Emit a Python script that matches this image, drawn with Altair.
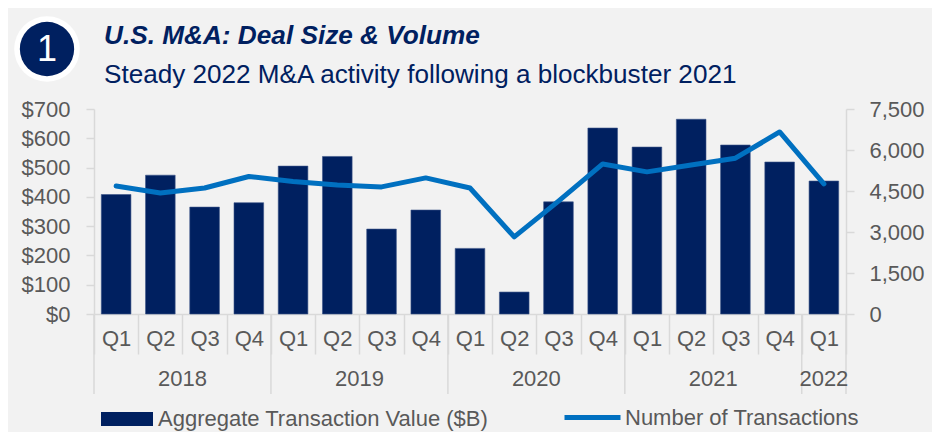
import altair as alt
import pandas as pd

FONT = "Liberation Sans"
NAVY = "#002060"
BLUE = "#0070C0"
GRAY = "#595959"
RULE = "#d9d9d9"
BG = "#f2f2f2"

years = ["2018"] * 4 + ["2019"] * 4 + ["2020"] * 4 + ["2021"] * 4 + ["2022"]
quarters = ["Q1", "Q2", "Q3", "Q4"] * 4 + ["Q1"]
value_b = [408, 474, 365, 380, 505, 538, 290, 355, 224, 75, 383, 635, 570, 665, 577, 519, 454]
transactions = [4680, 4430, 4610, 5030, 4850, 4720, 4650, 4980, 4610, 2820, 4130, 5490, 5200, 5450, 5700, 6660, 4760]

bar_name = "Aggregate Transaction Value ($B)"
line_name = "Number of Transactions"
title_text = "U.S. M&A: Deal Size & Volume"
subtitle_text = "Steady 2022 M&A activity following a blockbuster 2021"

periods = [f"{y} {q}" for y, q in zip(years, quarters)]
order = periods
df = pd.DataFrame({"period": periods, "value": value_b, "count": transactions,
                   "s1": bar_name, "s2": line_name})

year_starts = pd.DataFrame({"period": ["2018 Q1", "2019 Q1", "2020 Q1", "2021 Q1", "2022 Q1"]})
year_end = pd.DataFrame({"period": ["2022 Q1"]})
year_mid = pd.DataFrame({"period": ["2018 Q3", "2019 Q3", "2020 Q3", "2021 Q3"],
                         "year": ["2018", "2019", "2020", "2021"]})
year_single = pd.DataFrame({"period": ["2022 Q1"], "year": ["2022"]})

x_scale = alt.Scale(type="band", domain=order, paddingInner=0, paddingOuter=0)
x_plain = lambda **kw: alt.X("period:N", scale=x_scale, sort=order, title=None, **kw)

bars = alt.Chart(df).mark_bar(
    color=NAVY, width=alt.RelativeBandSize(band=0.67), stroke="#3a5488", strokeWidth=0.6
).encode(
    x=alt.X("period:N", scale=x_scale, sort=order, title=None, axis=alt.Axis(
        labelExpr="split(datum.label, ' ')[1]", labelAngle=0, tickBand="extent", tickSize=40,
        tickColor=RULE, tickWidth=1.5, domainColor=RULE, domainWidth=1.5,
        labelFont=FONT, labelFontSize=22, labelColor=GRAY, labelPadding=-16, labelBaseline="middle",
        labelAlign="center", grid=False)),
    y=alt.Y("value:Q", scale=alt.Scale(domain=[0, 700]), title=None, axis=alt.Axis(
        orient="left", values=[0, 100, 200, 300, 400, 500, 600, 700], format="$d", grid=False,
        tickSize=8, tickColor=RULE, tickWidth=1.5, domainColor=RULE, domainWidth=1.5,
        labelFont=FONT, labelFontSize=22, labelColor=GRAY, labelPadding=16)),
    color=alt.Color("s1:N", scale=alt.Scale(domain=[bar_name], range=[NAVY]), title=None, legend=alt.Legend(
        orient="none", legendX=7, legendY=284, symbolType="M-1,-0.27H1V0.27H-1Z", symbolSize=2704,
        symbolStrokeWidth=0, labelFont=FONT, labelFontSize=22, labelColor=GRAY, labelLimit=500, labelOffset=5)),
)

line = alt.Chart(df).mark_line(strokeWidth=5, strokeCap="round", strokeJoin="round").encode(
    x=x_plain(),
    y=alt.Y("count:Q", scale=alt.Scale(domain=[0, 7500]), title=None, axis=alt.Axis(
        orient="right", values=[0, 1500, 3000, 4500, 6000, 7500], format=",d", grid=False,
        tickSize=8, tickColor=RULE, tickWidth=1.5, domainColor=RULE, domainWidth=1.5,
        labelFont=FONT, labelFontSize=22, labelColor=GRAY, labelPadding=15)),
    stroke=alt.Stroke("s2:N", scale=alt.Scale(domain=[line_name], range=[BLUE]), title=None, legend=alt.Legend(
        orient="none", legendX=468, legendY=278, symbolType="stroke", symbolSize=3136,
        symbolStrokeWidth=5, labelFont=FONT, labelFontSize=22, labelColor=GRAY, labelLimit=500, labelOffset=2)),
)

sep_start = alt.Chart(year_starts).mark_rule(color=RULE, strokeWidth=1.5).encode(
    x=x_plain(bandPosition=0), y=alt.value(205), y2=alt.value(285))
sep_end = alt.Chart(year_end).mark_rule(color=RULE, strokeWidth=1.5).encode(
    x=x_plain(bandPosition=1), y=alt.value(205), y2=alt.value(285))

year_style = dict(font=FONT, fontSize=22, color=GRAY, baseline="middle", align="center")
year_text = alt.Chart(year_mid).mark_text(**year_style).encode(
    x=x_plain(bandPosition=0), y=alt.value(270), text="year:N")
year_text2 = alt.Chart(year_single).mark_text(**year_style).encode(
    x=x_plain(bandPosition=0.5), y=alt.value(270), text="year:N")

badge_df = pd.DataFrame({"label": ["1"], "title": [title_text], "subtitle": [subtitle_text]})
badge_white = alt.Chart(badge_df).mark_point(filled=True, shape="circle", color="white", opacity=1, size=4300).encode(
    x=alt.value(-47), y=alt.value(-60))
badge_navy = alt.Chart(badge_df).mark_point(filled=True, shape="circle", color=NAVY, opacity=1, size=2950).encode(
    x=alt.value(-47), y=alt.value(-60))
badge_text = alt.Chart(badge_df).mark_text(font=FONT, fontSize=36, color="white", baseline="middle", align="center").encode(
    x=alt.value(-47), y=alt.value(-59), text="label:N")
title_mark = alt.Chart(badge_df).mark_text(font=FONT, fontSize=26.2, fontStyle="italic", fontWeight="bold",
                                           color=NAVY, baseline="middle", align="left").encode(
    x=alt.value(10), y=alt.value(-73), text="title:N")
subtitle_mark = alt.Chart(badge_df).mark_text(font=FONT, fontSize=26.1, color=NAVY, baseline="middle", align="left").encode(
    x=alt.value(10), y=alt.value(-34), text="subtitle:N")

chart = alt.layer(
    bars, line, sep_start, sep_end, year_text, year_text2, badge_white, badge_navy, badge_text,
    title_mark, subtitle_mark
).resolve_scale(
    y="independent", color="independent", stroke="independent"
).properties(
    width=752,
    height=205,
    padding={"left": 86, "top": 101, "right": 86, "bottom": 118},
    autosize=alt.AutoSizeParams(type="none"),
    background=BG,
).configure_view(stroke=None)

chart.save("out.html", embed_options={"renderer": "svg", "actions": False})
